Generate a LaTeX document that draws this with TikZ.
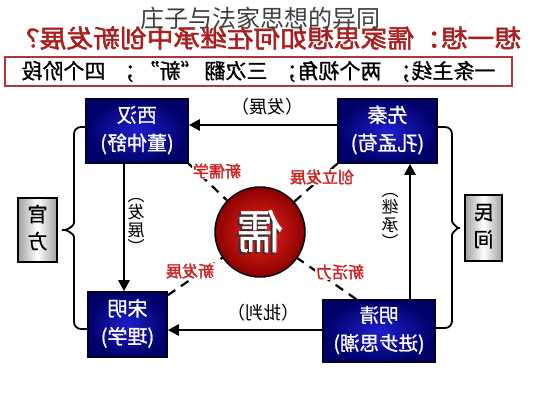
\documentclass[tikz,border=0pt]{standalone}
\usepackage{fontspec}
\setmainfont{Noto Sans CJK SC}
\newfontfamily\cjkb{Noto Sans CJK SC}[FakeBold=2]
\newfontfamily\cjkm{Noto Sans CJK SC}[FakeBold=1]
\usetikzlibrary{arrows.meta}
\definecolor{qred}{RGB}{170,30,30}
\definecolor{lred}{RGB}{205,35,35}
\definecolor{boxred}{RGB}{175,55,60}
\definecolor{bin}{RGB}{30,30,205}
\definecolor{bout}{RGB}{0,0,105}
\definecolor{rin}{RGB}{240,40,35}
\definecolor{rout}{RGB}{140,0,0}
\newcommand\mir[1]{\scalebox{-1}[1]{#1}}
\newcommand\mtwo[2]{\scalebox{-1}[1]{\begin{tabular}{@{}c@{}}#1\\[1pt]#2\end{tabular}}}
\newcommand\mvert[2]{\scalebox{-1}[1]{\begin{tabular}{@{}c@{}}︵\\[-3pt]#1\\#2\\[-3pt]︶\end{tabular}}}
\begin{document}
\begin{tikzpicture}[x=1pt,y=-1pt,
  bluebox/.style={draw=black!85!blue,line width=1.6pt,shading=radial,inner color=bin,outer color=bout,text=white,inner sep=0pt,font=\cjkm\fontsize{20}{27}\selectfont},
  graybox/.style={draw=black,line width=1.6pt,left color=gray!75,right color=gray!75,middle color=white,inner sep=0pt,font=\cjkm\fontsize{20}{26}\selectfont},
  arr/.style={line width=2.6pt,-{Triangle[length=11pt,width=11pt]}},
  brace/.style={line width=1.8pt,rounded corners=7pt},
  dashline/.style={line width=2.2pt,dash pattern=on 9pt off 7pt},
  redlab/.style={fill=white,inner sep=1pt,text=lred,font=\cjkb\fontsize{16}{16}\selectfont},
  blab/.style={inner sep=0pt,font=\fontsize{18}{18}\selectfont},
  vlab/.style={inner sep=0pt,font=\fontsize{17}{17}\selectfont}]
\useasboundingbox[fill=white] (0,0) rectangle (533,400);

% question line and summary box
\node[text=qred,font=\cjkb\fontsize{25}{25}\selectfont,inner sep=0pt] (q) at (267,38) {\scalebox{-1.07}[1]{想一想：儒家思想如何在继承中创新发展？}};
\node[draw=boxred,line width=1.6pt,minimum width=507pt,minimum height=29pt,inner sep=0pt,font=\cjkm\fontsize{21}{21}\selectfont] (sum) at (258.5,71.5) {\mir{一条主线；\hspace{9pt}两个视角；\hspace{9pt}三次翻\hspace{3pt}“新”\hspace{3pt}；\hspace{9pt}四个阶段}};

% period boxes
\node[bluebox,minimum width=102pt,minimum height=64pt] (xh) at (137,131) {\mtwo{西汉}{(董仲舒)}};
\node[bluebox,minimum width=99pt,minimum height=64pt] (xq) at (387.5,131) {\mtwo{先秦}{(孔孟荀)}};
\node[bluebox,minimum width=79pt,minimum height=65pt] (sm) at (127.5,324.5) {\mtwo{宋明}{(理学)}};
\node[bluebox,minimum width=112pt,minimum height=62pt,font=\cjkm\fontsize{19.5}{27}\selectfont] (mq) at (379,331) {\mtwo{明清}{(进步思潮)}};

% side boxes
\node[graybox,minimum width=39pt,minimum height=64pt] (gf) at (37.5,230) {\mtwo{官}{方}};
\node[graybox,minimum width=37pt,minimum height=66pt] (mj) at (483.5,228) {\mtwo{民}{间}};

% centre circle
\node[circle,draw=black,line width=1.5pt,minimum size=90pt,shading=radial,inner color=rin,outer color=rout,inner sep=0pt,font=\cjkm\fontsize{46}{46}\selectfont] (ru) at (260,232) {\mir{\makebox[0pt][l]{\hspace{2pt}\raisebox{-2pt}{\color{black!80}儒}}\color{white}儒}};

% arrows
\coordinate (a1) at (124,0);
\coordinate (a2) at (410,0);
\coordinate (a3) at (0,330);
\coordinate (a4) at (0,125);
\draw[arr] (xq.west |- a4) -- (xh.east |- a4);
\draw[arr] (xh.south -| a1) -- (sm.north -| a1);
\draw[arr] (mq.west |- a3) -- (sm.east |- a3);
\draw[arr] (mq.north -| a2) -- (xq.south -| a2);

% braces
\coordinate (lt) at (74,127);
\coordinate (lb) at (74,329);
\coordinate (rt) at (452,127);
\coordinate (rb) at (452,328);
\draw[brace] (xh.west |- lt) -- (lt) -- (74,216) .. controls (74,226) and (67,230) .. (gf.east) .. controls (67,230) and (74,234) .. (74,244) -- (lb) -- (sm.west |- lb);
\draw[brace] (xq.east |- rt) -- (rt) -- (452,214) .. controls (452,224) and (459,228) .. (mj.west) .. controls (459,228) and (452,232) .. (452,242) -- (rb) -- (mq.east |- rb);

% dashed links
\draw[dashline] (xh.south east) -- (ru);
\draw[dashline] (xq.south west) -- (ru);
\draw[dashline] ([yshift=-4pt]sm.north east) -- (ru);
\draw[dashline] ([xshift=34pt]mq.north west) -- (ru);

% red labels
\node[redlab] (l1) at (217,171) {\mir{新儒学}};
\node[redlab] (l2) at (322,177) {\mir{创立发展}};
\node[redlab] (l3) at (190,271) {\mir{新发展}};
\node[redlab] (l4) at (340,272) {\mir{新活力}};

% arrow labels
\node[blab] (t1) at (267,107) {\mir{（发展）}};
\node[blab] (t2) at (263,313) {\mir{（批判）}};
\node[vlab] (t3) at (136,224) {\mvert{发}{展}};
\node[vlab] (t4) at (390,219) {\mvert{继}{承}};

% overlaid title
\node[text=black!75,font=\fontsize{24}{24}\selectfont,inner sep=0pt] (title) at (260,18) {庄子与法家思想的异同};
\end{tikzpicture}
\end{document}
